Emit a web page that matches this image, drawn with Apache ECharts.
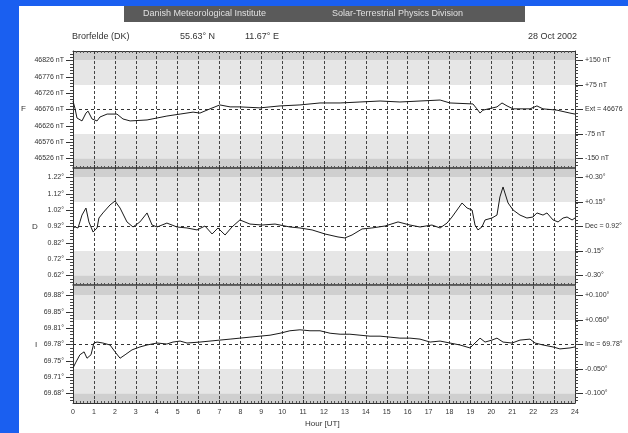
<!DOCTYPE html>
<html>
<head>
<meta charset="utf-8">
<script src="https://cdn.jsdelivr.net/npm/echarts@6/dist/echarts.min.js"></script>
<style>
  html, body { margin: 0; padding: 0; background: #fff; }
  #chart { width: 628px; height: 433px; }
</style>
</head>
<body>
<div id="chart"></div>
<script>
// hour of day (UT) and readings, one pair of arrays per component
var hoursF = [0.00, 0.10, 0.19, 0.43, 0.62, 0.72, 0.91, 1.15, 1.29, 1.63, 2.10, 2.39, 2.73, 3.54, 4.02, 4.49, 5.12, 5.74, 6.07, 6.55, 7.02, 7.51, 7.98, 8.94, 9.90, 10.85, 11.81, 12.77, 13.72, 14.68, 15.63, 16.59, 17.55, 18.02, 19.12, 19.31, 19.46, 19.60, 20.27, 20.51, 20.75, 21.04, 21.85, 22.18, 22.47, 23.14, 23.76, 24.00];
var valuesF = [46702, 46678, 46650, 46641, 46665, 46671, 46647, 46641, 46653, 46662, 46662, 46647, 46641, 46644, 46650, 46656, 46662, 46668, 46665, 46678, 46690, 46684, 46684, 46681, 46687, 46690, 46696, 46696, 46699, 46702, 46699, 46702, 46705, 46696, 46693, 46678, 46665, 46674, 46684, 46696, 46687, 46678, 46678, 46687, 46678, 46674, 46665, 46662];

var hoursD = [0.00, 0.10, 0.24, 0.33, 0.43, 0.62, 0.76, 0.96, 1.15, 1.24, 1.43, 1.77, 2.01, 2.25, 2.58, 2.87, 3.20, 3.54, 3.78, 4.02, 4.49, 4.97, 5.45, 5.93, 6.31, 6.65, 6.93, 7.27, 7.60, 7.98, 8.46, 9.04, 9.66, 10.37, 10.85, 11.43, 12.05, 12.67, 13.00, 13.34, 13.82, 14.29, 14.92, 15.54, 16.11, 16.59, 17.16, 17.55, 17.88, 18.12, 18.36, 18.60, 18.84, 19.08, 19.22, 19.36, 19.55, 19.70, 20.03, 20.27, 20.41, 20.56, 20.65, 20.80, 21.04, 21.37, 21.70, 21.99, 22.18, 22.47, 22.66, 22.95, 23.19, 23.43, 23.62, 23.86, 24.00];
var valuesD = [0.911, 0.917, 0.911, 0.948, 0.990, 1.033, 0.948, 0.886, 0.911, 0.972, 1.003, 1.052, 1.076, 1.033, 0.948, 0.917, 0.948, 1.003, 0.929, 0.917, 0.941, 0.917, 0.911, 0.899, 0.923, 0.874, 0.911, 0.868, 0.917, 0.960, 0.935, 0.929, 0.935, 0.917, 0.911, 0.899, 0.874, 0.856, 0.850, 0.868, 0.905, 0.911, 0.923, 0.948, 0.929, 0.917, 0.929, 0.911, 0.941, 0.978, 1.021, 1.064, 1.033, 1.021, 0.929, 0.899, 0.917, 0.960, 0.972, 0.990, 1.101, 1.162, 1.125, 1.064, 1.021, 0.990, 0.972, 0.978, 1.003, 0.990, 1.003, 0.960, 0.948, 0.972, 0.978, 0.960, 0.972];

var hoursI = [0.00, 0.14, 0.33, 0.53, 0.67, 0.86, 1.00, 1.15, 1.43, 1.77, 2.01, 2.25, 2.49, 2.82, 3.20, 3.54, 4.02, 4.49, 4.78, 5.12, 5.45, 6.07, 6.55, 7.03, 7.51, 7.98, 8.46, 8.94, 9.42, 9.90, 10.37, 10.85, 11.33, 11.81, 12.29, 12.77, 13.24, 13.72, 14.20, 14.68, 15.16, 15.63, 16.11, 16.59, 17.07, 17.55, 18.02, 18.50, 18.98, 19.22, 19.46, 19.70, 20.03, 20.27, 20.56, 20.99, 21.37, 21.85, 22.09, 22.47, 22.95, 23.28, 23.76, 24.00];
var valuesI = [69.732, 69.744, 69.759, 69.765, 69.752, 69.759, 69.783, 69.785, 69.783, 69.779, 69.765, 69.752, 69.759, 69.769, 69.775, 69.779, 69.783, 69.781, 69.785, 69.787, 69.783, 69.785, 69.787, 69.789, 69.791, 69.793, 69.795, 69.797, 69.799, 69.803, 69.808, 69.810, 69.808, 69.808, 69.803, 69.801, 69.801, 69.799, 69.797, 69.797, 69.795, 69.793, 69.793, 69.791, 69.785, 69.787, 69.783, 69.779, 69.773, 69.783, 69.793, 69.785, 69.789, 69.793, 69.785, 69.783, 69.789, 69.791, 69.783, 69.779, 69.775, 69.771, 69.773, 69.775];

// tick labels
var hourTicks = [0, 1, 2, 3, 4, 5, 6, 7, 8, 9, 10, 11, 12, 13, 14, 15, 16, 17, 18, 19, 20, 21, 22, 23, 24];
var leftTicksF = [46526, 46576, 46626, 46676, 46726, 46776, 46826];
var leftTicksD = [0.62, 0.72, 0.82, 0.92, 1.02, 1.12, 1.22];
var leftTicksI = [69.6800, 69.7133, 69.7467, 69.7800, 69.8133, 69.8467, 69.8800];
var rightLabelsF = ['-150 nT', '-75 nT', 'Ext = 46676', '+75 nT', '+150 nT'];
var rightLabelsD = ['-0.30°', '-0.15°', 'Dec = 0.92°', '+0.15°', '+0.30°'];
var rightLabelsI = ['-0.100°', '-0.050°', 'Inc = 69.78°', '+0.050°', '+0.100°'];

var panels = [
    {letter: 'F', center: 46676, step: 50, top: 51, hours: hoursF, values: valuesF, left: leftTicksF, right: rightLabelsF,
     fmt: function (v) { return Math.round(v) + ' nT'; }},
    {letter: 'D', center: 0.92, step: 0.1, top: 168, hours: hoursD, values: valuesD, left: leftTicksD, right: rightLabelsD,
     fmt: function (v) { return v.toFixed(2) + '°'; }},
    {letter: 'I', center: 69.78, step: 0.1 / 3, top: 286, hours: hoursI, values: valuesI, left: leftTicksI, right: rightLabelsI,
     fmt: function (v) { return v.toFixed(2) + '°'; }}
];

var PANEL_H = 117;
var HALF = 58.5 / (49 / 3);   // half panel height in left-label steps
var FONT = 'Liberation Sans, Arial, sans-serif';
var DARK = '#cfcfcf', LIGHT = '#e6e6e6';

var grids = [], xAxes = [], yAxes = [], series = [];

panels.forEach(function (p, i) {
    var c = p.center, s = p.step;
    var min = c - HALF * s, max = c + HALF * s;
    var rightVals = [c - 3 * s, c - 1.5 * s, c, c + 1.5 * s, c + 3 * s];
    var minor = [];
    for (var k = -17; k <= 17; k++) minor.push(c + k * s / 5);

    grids.push({left: 73, right: 53, top: p.top, height: PANEL_H});

    xAxes.push({
        gridIndex: i, type: 'value', min: 0, max: 24, interval: 1, position: 'bottom', z: 3,
        axisLine: {show: true, lineStyle: {color: '#333', width: i < 2 ? 1.5 : 1}},
        axisTick: {show: true, inside: true, length: 3, lineStyle: {color: '#333'}},
        minorTick: {show: true, splitNumber: 6, length: 2, lineStyle: {color: '#555'}},
        axisLabel: {show: i === 2, fontSize: 7, color: '#333', fontFamily: FONT, margin: 6,
                    formatter: function (v) { return hourTicks.indexOf(v) >= 0 ? String(v) : ''; }},
        splitLine: {show: true, lineStyle: {color: '#444', type: [3, 2], width: 1}}
    });

    var base = yAxes.length;
    yAxes.push({
        gridIndex: i, type: 'value', position: 'left', min: min, max: max, z: 3,
        axisLine: {show: true, lineStyle: {color: '#333'}},
        axisTick: {show: true, length: 7, customValues: p.left, lineStyle: {color: '#333'}},
        axisLabel: {customValues: p.left, formatter: p.fmt, fontSize: 7, color: '#333', fontFamily: FONT, margin: 9},
        splitLine: {show: false}
    });
    yAxes.push({
        gridIndex: i, type: 'value', position: 'left', min: min, max: max, z: 3,
        axisLine: {show: false},
        axisTick: {show: true, length: 3, customValues: minor, lineStyle: {color: '#444'}},
        axisLabel: {show: false}, splitLine: {show: false}
    });
    yAxes.push({
        gridIndex: i, type: 'value', position: 'right', min: min, max: max, z: 3,
        axisLine: {show: true, lineStyle: {color: '#333'}},
        axisTick: {show: true, length: 8, customValues: rightVals, lineStyle: {color: '#333'}},
        axisLabel: {customValues: rightVals, fontSize: 7, color: '#333', fontFamily: FONT, margin: 10,
                    formatter: function (v) {
                        for (var j = 0; j < rightVals.length; j++) {
                            if (Math.abs(v - rightVals[j]) < s * 0.01) return p.right[j];
                        }
                        return '';
                    }},
        splitLine: {show: false}
    });
    yAxes.push({
        gridIndex: i, type: 'value', position: 'right', min: min, max: max, z: 3,
        axisLine: {show: false},
        axisTick: {show: true, length: 3, customValues: minor, lineStyle: {color: '#444'}},
        axisLabel: {show: false}, splitLine: {show: false}
    });

    // grey bands behind the trace
    series.push({
        type: 'line', xAxisIndex: i, yAxisIndex: base, data: [], z: 1, silent: true,
        markArea: {
            silent: true,
            data: [
                [{yAxis: c + 3 * s, itemStyle: {color: DARK}}, {yAxis: max}],
                [{yAxis: c + 1.5 * s, itemStyle: {color: LIGHT}}, {yAxis: c + 3 * s}],
                [{yAxis: c - 3 * s, itemStyle: {color: LIGHT}}, {yAxis: c - 1.5 * s}],
                [{yAxis: min, itemStyle: {color: DARK}}, {yAxis: c - 3 * s}]
            ]
        }
    });

    series.push({
        type: 'line', xAxisIndex: i, yAxisIndex: base, z: 5,
        showSymbol: false, smooth: false, animation: false,
        lineStyle: {color: '#1a1a1a', width: 1},
        data: p.hours.map(function (h, j) { return [h, p.values[j]]; }),
        markLine: {
            silent: true, symbol: 'none', animation: false,
            label: {show: false},
            lineStyle: {color: '#333', type: [3, 3], width: 1},
            data: [{yAxis: c}]
        }
    });
});

// top border of the first panel
xAxes.push({
    gridIndex: 0, type: 'value', min: 0, max: 24, interval: 1, position: 'top', z: 3,
    axisLine: {show: true, lineStyle: {color: '#333'}},
    axisTick: {show: true, inside: true, length: 3, lineStyle: {color: '#333'}},
    minorTick: {show: true, splitNumber: 6, length: 2, lineStyle: {color: '#555'}},
    axisLabel: {show: false}, splitLine: {show: false}
});

var chart = echarts.init(document.getElementById('chart'));
chart.setOption({
    animation: false,
    backgroundColor: '#ffffff',
    grid: grids,
    xAxis: xAxes,
    yAxis: yAxes,
    series: series,
    graphic: [
        {type: 'rect', left: 0, top: 0, shape: {width: 19, height: 433}, style: {fill: '#1a5ff0'}},
        {type: 'rect', left: 0, top: 0, shape: {width: 628, height: 6}, style: {fill: '#1a5ff0'}},
        {type: 'rect', left: 124, top: 6, shape: {width: 401, height: 16}, style: {fill: '#5a5a5a'}},
        {type: 'text', left: 143, top: 9, style: {text: 'Danish Meteorological Institute', fill: '#e0e0e0', font: '9px ' + FONT}},
        {type: 'text', left: 332, top: 9, style: {text: 'Solar-Terrestrial Physics Division', fill: '#e0e0e0', font: '9px ' + FONT}},
        {type: 'text', left: 72, top: 32, style: {text: 'Brorfelde (DK)', fill: '#333', font: '9px ' + FONT}},
        {type: 'text', left: 180, top: 32, style: {text: '55.63° N', fill: '#333', font: '9px ' + FONT}},
        {type: 'text', left: 245, top: 32, style: {text: '11.67° E', fill: '#333', font: '9px ' + FONT}},
        {type: 'text', right: 51, top: 32, style: {text: '28 Oct 2002', fill: '#333', font: '9px ' + FONT}},
        {type: 'text', left: 21, top: 105, style: {text: 'F', fill: '#333', font: '8px ' + FONT}},
        {type: 'text', left: 32, top: 223, style: {text: 'D', fill: '#333', font: '8px ' + FONT}},
        {type: 'text', left: 35, top: 341, style: {text: 'I', fill: '#333', font: '8px ' + FONT}},
        {type: 'text', left: 305, top: 420, style: {text: 'Hour [UT]', fill: '#333', font: '8px ' + FONT}}
    ]
});
</script>
</body>
</html>
